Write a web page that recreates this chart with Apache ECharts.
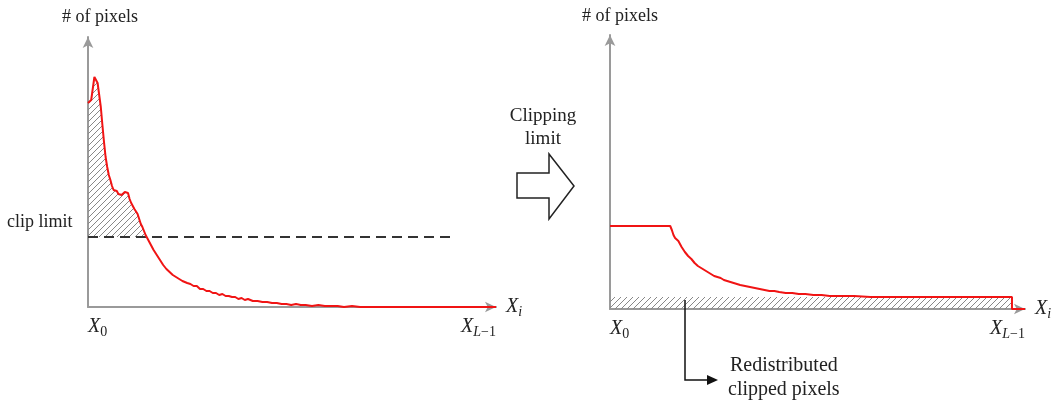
<!DOCTYPE html>
<html>
<head>
<meta charset="utf-8">
<script src="https://cdn.jsdelivr.net/npm/echarts@6/dist/echarts.min.js"></script>
<style>
  html, body { margin: 0; padding: 0; background: #fff; }
  #chart { width: 1058px; height: 404px; }
</style>
</head>
<body>
<div id="chart"></div>
<script>
// original histogram (bin index, pixel count)
const bins = [0, 2, 4, 5, 6, 7, 8, 9, 10, 11, 12, 13, 14, 15, 16, 17, 18, 19, 20, 21, 22, 23, 24, 25,
  26, 27, 28, 29, 30, 31, 32, 33, 34, 35, 36, 37, 38, 39, 40, 41, 42, 43, 44, 45, 46, 47, 48, 49, 50,
  51, 52, 53, 54, 55, 56, 57, 58, 59, 60, 62, 64, 66, 68, 70, 72, 74, 76, 78, 80, 82, 84, 86, 88, 90,
  92, 94, 96, 98, 100, 103, 106, 109, 112, 115, 118, 121, 124, 127, 130, 133, 136, 140, 144, 148, 152,
  156, 160, 165, 170, 175, 255]
const counts = [204, 207, 230, 228, 224, 212, 200, 182, 165, 150, 140, 132, 127, 121, 117, 115, 116, 113,
  114, 112, 111, 115, 113, 114, 108, 104, 102, 98, 96, 93, 88, 83, 80, 76, 72, 69, 66, 63, 61, 57, 55,
  52, 50, 47, 45, 42, 41, 38, 38, 35, 34, 32, 32, 30, 29, 28, 28, 26, 26, 24, 23, 21, 21, 18, 18, 16,
  16, 14, 14, 12, 13, 11, 11, 10, 10, 8, 9, 7, 8, 6, 6, 5, 5, 4, 4, 3, 3, 2, 3, 2, 2, 1, 2, 1, 1, 1, 0,
  1, 0, 0, 0]
const clipLimit = 70
const clipCross = 36.7
const clipLineEnd = 229

// clipped + redistributed histogram
const clippedBins = [0, 37, 38, 39, 40, 41, 42, 43, 44, 45, 46, 47, 48, 49, 50, 51, 52, 53, 54, 55, 56,
  57, 58, 59, 60, 62, 64, 66, 68, 70, 72, 74, 76, 78, 80, 83, 86, 89, 92, 95, 98, 101, 104, 108, 112,
  116, 120, 125, 130, 135, 140, 150, 160, 247, 247, 255]
const clippedCounts = [83, 83, 79, 74, 71, 69, 68, 66, 62, 60, 57, 55, 53, 51, 50, 48, 46, 45, 43, 42,
  41, 39, 39, 37, 37, 35, 33, 32, 31, 29, 28, 27, 26, 25, 24, 23, 22, 21, 20, 19, 18, 18, 17, 16, 16,
  15, 15, 14, 14, 13, 13, 13, 12, 12, 0, 0]
const redistLevel = 12
const redistEnd = 247

const tickValues = [0, 255]
const tickLabels = ['{x|X}{s|0}', '{x|X}{xs|L}{s|−1}']

const zip = (xs, ys) => xs.map((x, i) => [x, ys[i]])

// hatch pattern
const hatch = document.createElement('canvas')
hatch.width = 6
hatch.height = 6
const hc = hatch.getContext('2d')
hc.strokeStyle = '#888'
hc.lineWidth = 1
hc.beginPath()
hc.moveTo(0, 6); hc.lineTo(6, 0)
hc.moveTo(-1, 1); hc.lineTo(1, -1)
hc.moveTo(5, 7); hc.lineTo(7, 5)
hc.stroke()
const hatchFill = { image: hatch, repeat: 'repeat' }

const RED = '#f01414'
const AXIS = '#9a9a9a'
const SERIF = 'Liberation Serif'

const labelRich = {
  x: { fontFamily: SERIF, fontStyle: 'italic', fontSize: 20, color: '#222' },
  xs: { fontFamily: SERIF, fontStyle: 'italic', fontSize: 14, color: '#222', padding: [10, 0, 0, 0] },
  s: { fontFamily: SERIF, fontSize: 14, color: '#222', padding: [10, 0, 0, 0] },
}

const xAxisOf = (gridIndex) => ({
  type: 'value', gridIndex, min: 0, max: 255,
  name: '{x|X}{xs|i}', nameLocation: 'end', nameGap: 10,
  nameTextStyle: { rich: labelRich },
  axisLine: { show: true, symbol: ['none', 'arrow'], symbolSize: [8, 11], lineStyle: { color: AXIS, width: 2 } },
  axisTick: { show: false },
  splitLine: { show: false },
  axisLabel: {
    customValues: tickValues,
    alignMinLabel: 'left', alignMaxLabel: 'right',
    margin: 8,
    formatter: v => {
      const i = tickValues.indexOf(v)
      return i < 0 ? '' : tickLabels[i]
    },
    rich: labelRich,
  },
})

const yAxisOf = (gridIndex, max) => ({
  type: 'value', gridIndex, min: 0, max,
  axisLine: { show: true, symbol: ['none', 'arrow'], symbolSize: [8, 11], lineStyle: { color: AXIS, width: 2 } },
  axisTick: { show: false },
  axisLabel: { show: false },
  splitLine: { show: false },
})

const hatchData = zip(bins, counts).filter(p => p[0] < clipCross)
hatchData.push([clipCross, clipLimit])

const textFont = '18px "Liberation Serif"'
const noteFont = '19px "Liberation Serif"'

const option = {
  animation: false,
  grid: [
    { left: 88, top: 37, width: 408, height: 270, outerBoundsMode: 'none' },
    { left: 610, top: 35, width: 415, height: 274, outerBoundsMode: 'none' },
  ],
  xAxis: [xAxisOf(0), xAxisOf(1)],
  yAxis: [yAxisOf(0, 270), yAxisOf(1, 274)],
  series: [
    {
      type: 'line', xAxisIndex: 0, yAxisIndex: 0, z: 1,
      data: hatchData, symbol: 'none',
      lineStyle: { width: 0 },
      areaStyle: { origin: clipLimit, color: hatchFill, opacity: 1 },
    },
    {
      type: 'line', xAxisIndex: 0, yAxisIndex: 0, z: 3,
      data: [[0, clipLimit], [clipLineEnd, clipLimit]], symbol: 'none',
      lineStyle: { color: '#333', width: 2, type: [10, 6] },
    },
    {
      type: 'line', xAxisIndex: 0, yAxisIndex: 0, z: 4,
      data: zip(bins, counts), symbol: 'none',
      lineStyle: { color: RED, width: 2 },
    },
    {
      type: 'line', xAxisIndex: 1, yAxisIndex: 1, z: 1,
      data: [[0, redistLevel], [redistEnd, redistLevel]], symbol: 'none',
      lineStyle: { width: 0 },
      areaStyle: { origin: 0, color: hatchFill, opacity: 1 },
    },
    {
      type: 'line', xAxisIndex: 1, yAxisIndex: 1, z: 4,
      data: zip(clippedBins, clippedCounts), symbol: 'none',
      lineStyle: { color: RED, width: 2 },
    },
  ],
  graphic: [
    { type: 'text', left: 62, top: 8, style: { text: '# of pixels', font: textFont, fill: '#222' } },
    { type: 'text', left: 582, top: 7, style: { text: '# of pixels', font: textFont, fill: '#222' } },
    { type: 'text', left: 7, top: 213, style: { text: 'clip limit', font: textFont, fill: '#222' } },
    {
      type: 'text', x: 543, y: 105,
      style: { text: 'Clipping\nlimit', font: noteFont, fill: '#222', align: 'center', lineHeight: 23 },
    },
    {
      type: 'polygon',
      shape: { points: [[517, 173], [549, 173], [549, 154], [574, 186], [549, 219], [549, 198], [517, 198]] },
      style: { fill: '#fff', stroke: '#222', lineWidth: 1.5 },
    },
    {
      type: 'polyline', z: 10,
      shape: { points: [[685, 300], [685, 380], [709, 380]] },
      style: { stroke: '#111', lineWidth: 1.5, fill: null },
    },
    {
      type: 'polygon', z: 10,
      shape: { points: [[707, 375], [718, 380], [707, 385]] },
      style: { fill: '#111' },
    },
    {
      type: 'text', left: 730, top: 356,
      style: { text: 'Redistributed', font: '20px "Liberation Serif"', fill: '#222' },
    },
    {
      type: 'text', left: 728, top: 380,
      style: { text: 'clipped pixels', font: '20px "Liberation Serif"', fill: '#222' },
    },
  ],
}

const chart = echarts.init(document.getElementById('chart'))
chart.setOption(option)
</script>
</body>
</html>
